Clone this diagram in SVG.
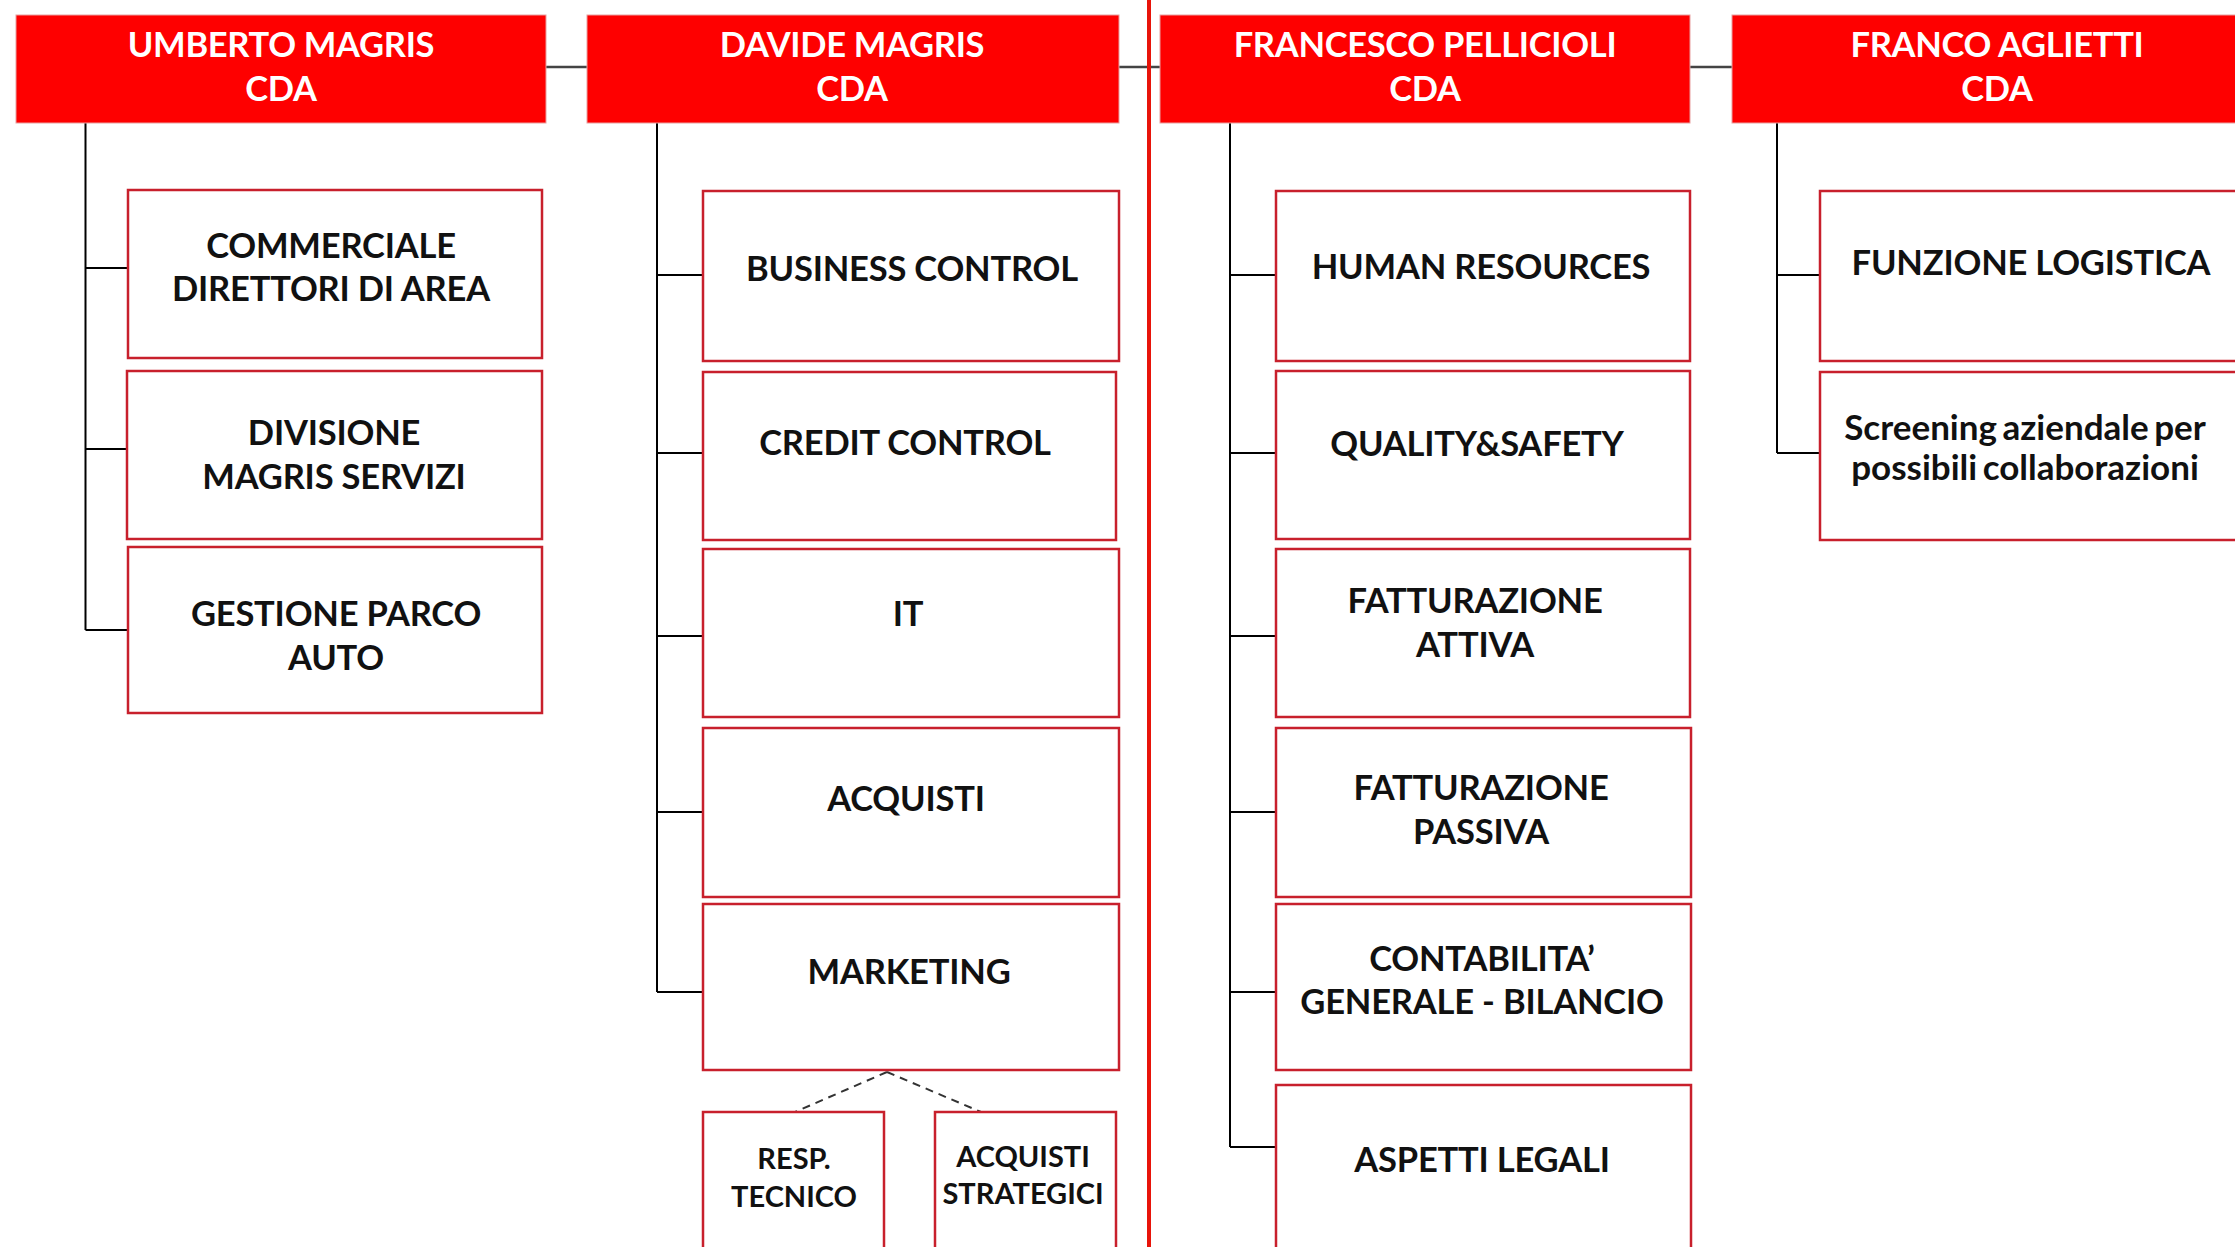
<svg xmlns="http://www.w3.org/2000/svg" width="2235" height="1247" viewBox="0 0 2235 1247">
<style>
.hd{fill:#fe0000;stroke:#e8a0a0;stroke-width:1}
.bx{fill:#ffffff;stroke:#c8202c;stroke-width:2.5}
.ht{font-family:Lato,"Liberation Sans",sans-serif;font-weight:bold;font-size:34.5px;letter-spacing:-0.3px;fill:#ffffff;text-anchor:middle}
.t{font-family:Lato,"Liberation Sans",sans-serif;font-weight:bold;font-size:34.5px;letter-spacing:-0.2px;fill:#111111;text-anchor:middle}
.ts{font-family:Lato,"Liberation Sans",sans-serif;font-weight:bold;font-size:35px;word-spacing:-3px;fill:#111111;text-anchor:middle}
.tx{font-family:Lato,"Liberation Sans",sans-serif;font-weight:bold;font-size:29px;fill:#111111;text-anchor:middle}
.ln{fill:none;stroke:#000000;stroke-width:2}
.hl{fill:none;stroke:#444444;stroke-width:2.5}
.dl{fill:none;stroke:#333333;stroke-width:2;stroke-dasharray:8 6}
</style>
<rect x="0" y="0" width="2235" height="1247" fill="#ffffff"/>
<g id="connectors">
<path class="hl" d="M546 67H587M1119 67H1160M1690 67H1732"/>
<path class="ln" d="M85.5 122V630M85.5 268H128M85.5 449H127M85.5 630H128"/>
<path class="ln" d="M657 122V992M657 275H703M657 453H703M657 636H703M657 812H703M657 992H703"/>
<path class="ln" d="M1230 122V1147M1230 275H1276M1230 453H1276M1230 636H1276M1230 812H1276M1230 992H1276M1230 1147H1276"/>
<path class="ln" d="M1777 122V453M1777 275H1820M1777 453H1820"/>
<path class="dl" d="M887 1072L795 1112M887 1072L981 1112"/>
</g>
<line id="divider" x1="1149" y1="0" x2="1149" y2="1247" stroke="#e8140a" stroke-width="4"/>
<g id="umberto"><rect class="hd" x="16" y="15" width="530" height="108"/><text class="ht" x="281" y="57">UMBERTO MAGRIS</text><text class="ht" x="281" y="101">CDA</text></g>
<g id="davide"><rect class="hd" x="587" y="15" width="532" height="108"/><text class="ht" x="852" y="57">DAVIDE MAGRIS</text><text class="ht" x="852" y="101">CDA</text></g>
<g id="francesco"><rect class="hd" x="1160" y="15" width="530" height="108"/><text class="ht" x="1425" y="57">FRANCESCO PELLICIOLI</text><text class="ht" x="1425" y="101">CDA</text></g>
<g id="franco"><rect class="hd" x="1732" y="15" width="510" height="108"/><text class="ht" x="1997" y="57">FRANCO AGLIETTI</text><text class="ht" x="1997" y="101">CDA</text></g>
<g id="commerciale"><rect class="bx" x="128" y="190" width="414" height="168"/><text class="t" x="331" y="258">COMMERCIALE</text><text class="t" x="331" y="301">DIRETTORI DI AREA</text></g>
<g id="divisione"><rect class="bx" x="127" y="371" width="415" height="168"/><text class="t" x="334" y="445">DIVISIONE</text><text class="t" x="334" y="489">MAGRIS SERVIZI</text></g>
<g id="gestione"><rect class="bx" x="128" y="547" width="414" height="166"/><text class="t" x="336" y="626">GESTIONE PARCO</text><text class="t" x="336" y="670">AUTO</text></g>
<g id="business"><rect class="bx" x="703" y="191" width="416" height="170"/><text class="t" x="912" y="281">BUSINESS CONTROL</text></g>
<g id="credit"><rect class="bx" x="703" y="372" width="413" height="168"/><text class="t" x="905" y="455">CREDIT CONTROL</text></g>
<g id="it"><rect class="bx" x="703" y="549" width="416" height="168"/><text class="t" x="908" y="626">IT</text></g>
<g id="acquisti"><rect class="bx" x="703" y="728" width="416" height="169"/><text class="t" x="906" y="811">ACQUISTI</text></g>
<g id="marketing"><rect class="bx" x="703" y="904" width="416" height="166"/><text class="t" x="909" y="984">MARKETING</text></g>
<g id="resp"><rect class="bx" x="703" y="1112" width="181" height="150"/><text class="tx" x="794" y="1169">RESP.</text><text class="tx" x="794" y="1207">TECNICO</text></g>
<g id="strategici"><rect class="bx" x="935" y="1112" width="181" height="150"/><text class="tx" x="1023" y="1167">ACQUISTI</text><text class="tx" x="1023" y="1204">STRATEGICI</text></g>
<g id="hr"><rect class="bx" x="1276" y="191" width="414" height="170"/><text class="t" x="1481" y="279">HUMAN RESOURCES</text></g>
<g id="quality"><rect class="bx" x="1276" y="371" width="414" height="168"/><text class="t" x="1477" y="456">QUALITY&amp;SAFETY</text></g>
<g id="attiva"><rect class="bx" x="1276" y="549" width="414" height="168"/><text class="t" x="1475" y="613">FATTURAZIONE</text><text class="t" x="1475" y="657">ATTIVA</text></g>
<g id="passiva"><rect class="bx" x="1276" y="728" width="415" height="169"/><text class="t" x="1481" y="800">FATTURAZIONE</text><text class="t" x="1481" y="844">PASSIVA</text></g>
<g id="contabilita"><rect class="bx" x="1276" y="904" width="415" height="166"/><text class="t" x="1482" y="971">CONTABILITA’</text><text class="t" x="1482" y="1014">GENERALE - BILANCIO</text></g>
<g id="legali"><rect class="bx" x="1276" y="1085" width="415" height="180"/><text class="t" x="1482" y="1172">ASPETTI LEGALI</text></g>
<g id="logistica"><rect class="bx" x="1820" y="191" width="425" height="170"/><text class="t" x="2031" y="275">FUNZIONE LOGISTICA</text></g>
<g id="screening"><rect class="bx" x="1820" y="372" width="425" height="168"/><text class="ts" x="2025" y="440">Screening aziendale per</text><text class="ts" x="2025" y="480">possibili collaborazioni</text></g>
</svg>
